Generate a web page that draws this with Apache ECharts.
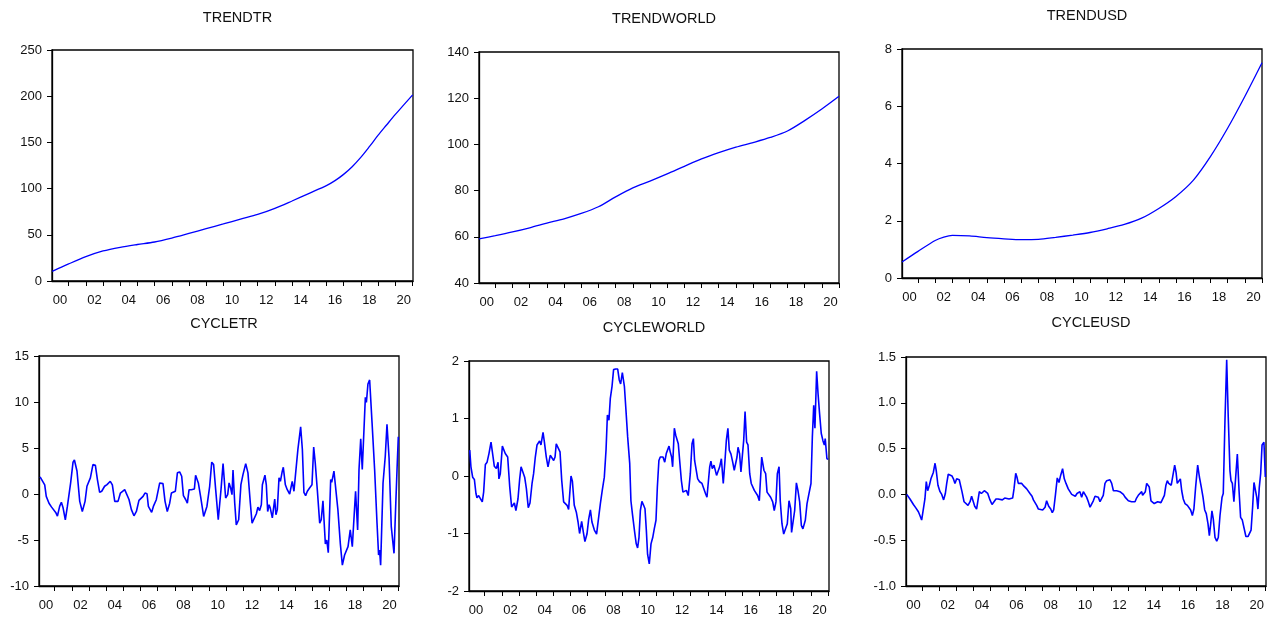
<!DOCTYPE html>
<html>
<head>
<meta charset="utf-8">
<script src="https://cdn.jsdelivr.net/npm/echarts@6.0.0/dist/echarts.min.js"></script>
<style>
html,body{margin:0;padding:0;background:#fff;}
#chart{width:1267px;height:618px;}
</style>
</head>
<body>
<div id="chart"></div>
<script>
// ---------------- DATA ----------------
const panelTitles = ['TRENDTR', 'TRENDWORLD', 'TRENDUSD', 'CYCLETR', 'CYCLEWORLD', 'CYCLEUSD'];

// x-axis: tick marks at each January, two-digit year labels centred in every other year
const yearTicks = [2001,2002,2003,2004,2005,2006,2007,2008,2009,2010,2011,2012,2013,2014,2015,2016,2017,2018,2019,2020,2021];
const yearLabelPos = [2000.5,2002.5,2004.5,2006.5,2008.5,2010.5,2012.5,2014.5,2016.5,2018.5,2020.5];

// y-axis ranges [min, max, interval]
const yTrendTR = [0, 250, 50];
const yTrendWorld = [40, 140, 20];
const yTrendUSD = [0, 8, 2];
const yCycleTR = [-10, 15, 5];
const yCycleWorld = [-2, 2, 1];
const yCycleUSD = [-1, 1.5, 0.5];

// trend series (date as fractional year, value)
const trendTRDates = [2000.04,2001,2002,2003,2004,2005,2006,2007,2008,2009,2010,2011,2012,2013,2014,2015,2016,2016.5,2017,2017.5,2018,2018.5,2019,2019.5,2020,2021.02];
const trendTRValues = [10.5,18.5,26.3,32.5,36.5,39.5,42.2,46.5,51.5,56.6,61.7,67,72,78.6,86.6,94.9,103.2,108.6,115.4,123.7,133.8,145.4,157.5,168.8,180,201.5];

const trendWorldDates = [2000.05,2001,2002,2003,2004,2005,2006,2007,2008,2009,2010,2011,2012,2013,2014,2015,2016,2017,2018,2019,2020,2021];
const trendWorldValues = [59.1,60.5,62.1,63.9,65.9,67.8,70.1,73,77.3,81.2,84.1,87.2,90.5,93.7,96.4,98.8,100.8,103,105.8,110.3,115.3,120.8];

const trendUSDDates = [2000.07,2001,2002,2002.5,2003,2004,2005,2006,2007,2008,2009,2010,2011,2012,2013,2014,2015,2016,2017,2018,2019,2020,2021];
const trendUSDValues = [0.56,0.93,1.31,1.43,1.49,1.47,1.41,1.37,1.34,1.35,1.42,1.50,1.59,1.72,1.87,2.09,2.43,2.85,3.41,4.24,5.23,6.34,7.52];

// cycle series
const cycleTRDates = [2000.15,2000.26,2000.42,2000.51,2000.67,2000.81,2000.9,2001.06,2001.16,2001.29,2001.39,2001.49,2001.62,2001.74,2001.93,2002.07,2002.15,2002.3,2002.46,2002.61,2002.77,2002.88,2003.08,2003.23,2003.37,2003.49,2003.62,2003.74,2003.91,2004.05,2004.24,2004.36,2004.5,2004.69,2004.83,2004.94,2005.08,2005.19,2005.33,2005.47,2005.62,2005.76,2005.91,2006.01,2006.15,2006.26,2006.38,2006.46,2006.57,2006.65,2006.75,2006.84,2006.92,2007.02,2007.12,2007.21,2007.31,2007.43,2007.56,2007.7,2007.8,2007.89,2008.03,2008.15,2008.28,2008.4,2008.5,2008.63,2008.73,2008.83,2008.96,2009.06,2009.14,2009.21,2009.37,2009.5,2009.68,2009.76,2009.87,2010.03,2010.15,2010.26,2010.38,2010.53,2010.69,2010.81,2010.96,2011.08,2011.16,2011.25,2011.33,2011.39,2011.49,2011.58,2011.72,2011.85,2011.97,2012.13,2012.26,2012.4,2012.5,2012.59,2012.75,2012.84,2012.94,2013.04,2013.1,2013.17,2013.25,2013.33,2013.41,2013.49,2013.56,2013.68,2013.76,2013.82,2013.89,2013.97,2014.07,2014.15,2014.26,2014.32,2014.44,2014.55,2014.69,2014.77,2014.84,2014.94,2015.04,2015.17,2015.33,2015.43,2015.52,2015.62,2015.72,2015.85,2015.99,2016.09,2016.18,2016.3,2016.44,2016.53,2016.63,2016.77,2016.85,2016.94,2017.08,2017.14,2017.27,2017.37,2017.5,2017.64,2017.76,2017.89,2018.09,2018.22,2018.34,2018.44,2018.53,2018.65,2018.73,2018.83,2018.92,2019.0,2019.1,2019.16,2019.25,2019.35,2019.49,2019.64,2019.78,2019.87,2019.93,2019.99,2020.13,2020.26,2020.36,2020.48,2020.61,2020.77,2020.86,2020.96,2021.02];
const cycleTRValues = [1.86,1.75,1.0,-0.26,-1.0,-1.4,-1.5,-2.0,-2.4,-1.35,-0.9,-1.5,-2.8,-1.35,1.2,3.46,3.7,2.5,-0.8,-1.9,-0.8,0.84,1.75,3.2,3.13,1.57,0.18,0.3,0.84,1.02,1.38,1.0,-0.8,-0.8,0.1,0.18,0.47,0.3,-0.6,-1.7,-2.37,-1.9,-0.7,-0.9,-0.26,0.1,0.03,-1.35,-1.3,-2.0,-1.35,-1.24,-0.62,-0.6,1.2,1.27,1.13,-0.8,-1.9,-1.0,0.1,-0.07,0.3,2.3,2.4,1.93,-0.18,-0.6,-1.0,0.47,0.47,0.66,0.55,2.04,1.2,-0.26,-2.44,-2.6,-1.35,0.84,3.46,3.2,0.47,-2.8,0.47,3.3,-0.44,-0.07,1.2,0.66,-0.07,2.6,-1.0,-3.35,-2.8,1.02,2.1,3.3,2.3,-1.0,-3.17,-3.35,-2.15,-1.42,-1.8,-1.17,1.0,1.2,2.04,1.0,-1.9,-1.17,-1.53,-2.6,-2.7,-0.55,-2.26,-1.7,1.75,1.38,2.48,2.9,1.0,0.47,0.0,-0.07,1.38,0.3,2.3,4.85,7.3,4.85,0.18,-0.18,0.3,0.66,1.0,5.1,3.4,0.47,-3.17,-2.8,-0.73,-5.43,-5.0,-6.38,1.57,1.27,2.48,2.3,-1.7,-5.36,-7.73,-6.63,-5.72,-3.9,-5.72,-5.8,0.3,-3.9,2.66,6.0,2.66,2.48,10.5,9.95,11.95,12.4,7.76,2.66,-3.17,-6.63,-6.1,-7.73,1.2,4.1,7.58,3.94,-3.54,-6.45,-1.7,3.39,6.23];

const cycleWorldDates = [2000.13,2000.20,2000.30,2000.40,2000.49,2000.55,2000.65,2000.75,2000.86,2000.94,2001.04,2001.14,2001.25,2001.37,2001.49,2001.56,2001.68,2001.78,2001.83,2001.91,2002.03,2002.11,2002.20,2002.34,2002.46,2002.57,2002.65,2002.73,2002.82,2002.94,2003.04,2003.12,2003.21,2003.33,2003.43,2003.54,2003.64,2003.76,2003.85,2003.95,2004.05,2004.20,2004.28,2004.40,2004.48,2004.59,2004.69,2004.82,2004.92,2005.02,2005.10,2005.17,2005.27,2005.39,2005.49,2005.60,2005.70,2005.80,2005.89,2006.03,2006.11,2006.22,2006.34,2006.44,2006.53,2006.65,2006.75,2006.84,2006.96,2007.06,2007.16,2007.25,2007.39,2007.52,2007.64,2007.74,2007.85,2007.97,2008.07,2008.15,2008.24,2008.32,2008.42,2008.51,2008.63,2008.75,2008.84,2008.92,2009.02,2009.14,2009.23,2009.33,2009.45,2009.52,2009.62,2009.74,2009.83,2009.91,2009.99,2010.07,2010.16,2010.26,2010.34,2010.42,2010.49,2010.59,2010.69,2010.79,2010.88,2010.98,2011.06,2011.15,2011.23,2011.31,2011.39,2011.49,2011.58,2011.66,2011.74,2011.81,2011.89,2011.95,2012.05,2012.13,2012.20,2012.28,2012.36,2012.46,2012.55,2012.65,2012.75,2012.86,2012.98,2013.08,2013.16,2013.23,2013.31,2013.41,2013.52,2013.66,2013.76,2013.87,2013.95,2014.03,2014.11,2014.18,2014.26,2014.36,2014.44,2014.51,2014.59,2014.69,2014.79,2014.90,2015.00,2015.08,2015.17,2015.25,2015.35,2015.45,2015.54,2015.62,2015.70,2015.76,2015.85,2015.93,2016.03,2016.09,2016.17,2016.26,2016.34,2016.44,2016.53,2016.63,2016.71,2016.81,2016.90,2017.00,2017.06,2017.14,2017.19,2017.27,2017.37,2017.45,2017.56,2017.66,2017.78,2017.87,2017.97,2018.05,2018.15,2018.22,2018.32,2018.42,2018.53,2018.63,2018.73,2018.83,2018.88,2018.96,2019.06,2019.16,2019.25,2019.35,2019.45,2019.54,2019.68,2019.78,2019.87,2020.01,2020.09,2020.17,2020.24,2020.34,2020.42,2020.51,2020.61,2020.71,2020.79,2020.84,2020.94,2021.02];
const cycleWorldValues = [0.45,0.16,-0.02,-0.06,-0.3,-0.38,-0.34,-0.33,-0.45,-0.28,0.2,0.24,0.39,0.59,0.33,0.17,0.13,0.24,-0.05,0.04,0.52,0.55,0.39,0.33,-0.19,-0.54,-0.57,-0.47,-0.6,-0.4,-0.05,0.16,0.16,-0.02,-0.22,-0.55,-0.47,-0.13,0.04,0.33,0.54,0.61,0.54,0.76,0.59,0.33,0.16,0.36,0.34,0.27,0.33,0.56,0.54,0.42,-0.08,-0.45,-0.48,-0.51,-0.58,0.0,-0.09,-0.51,-0.63,-0.8,-1.0,-0.79,-0.98,-1.14,-1.01,-0.75,-0.59,-0.8,-0.94,-1.01,-0.72,-0.48,-0.25,-0.02,0.45,1.06,0.97,1.35,1.56,1.85,1.86,1.86,1.67,1.6,1.8,1.56,1.15,0.68,0.22,-0.43,-0.69,-0.98,-1.18,-1.25,-1.07,-0.6,-0.44,-0.51,-0.57,-0.95,-1.36,-1.53,-1.18,-1.07,-0.92,-0.77,-0.19,0.27,0.33,0.3,0.33,0.24,0.39,0.42,0.52,0.42,0.33,0.16,0.83,0.71,0.68,0.56,0.27,-0.08,-0.28,-0.25,-0.25,-0.34,0.04,0.56,0.65,0.27,0.24,-0.05,-0.1,-0.13,-0.15,-0.31,-0.37,-0.34,0.16,0.26,0.13,0.19,0.19,0.01,0.04,0.16,0.3,-0.13,0.27,0.62,0.83,0.45,0.38,0.24,0.1,0.1,0.33,0.5,0.39,0.07,0.1,0.62,1.12,0.59,0.54,0.04,-0.13,-0.13,-0.25,-0.22,-0.34,-0.43,-0.43,0.33,0.34,0.1,0.04,-0.28,-0.31,-0.37,-0.45,-0.6,-0.45,0.04,0.16,-0.43,-0.83,-1.01,-1.04,-0.83,-0.43,-0.57,-0.98,-1.0,-0.6,-0.12,-0.25,-0.45,-0.86,-0.92,-0.77,-0.48,-0.34,-0.13,0.68,1.23,0.83,1.82,1.44,1.09,0.74,0.61,0.54,0.65,0.3,0.29];

const cycleUSDDates = [2000.11,2000.20,2000.30,2000.40,2000.50,2000.65,2000.79,2000.88,2000.98,2001.08,2001.17,2001.25,2001.33,2001.43,2001.52,2001.66,2001.76,2001.83,2001.93,2002.05,2002.15,2002.26,2002.36,2002.44,2002.53,2002.63,2002.75,2002.83,2002.92,2003.02,2003.08,2003.17,2003.25,2003.33,2003.45,2003.56,2003.68,2003.80,2003.89,2003.99,2004.07,2004.18,2004.26,2004.34,2004.46,2004.53,2004.63,2004.73,2004.83,2004.96,2005.08,2005.19,2005.31,2005.43,2005.54,2005.68,2005.82,2005.93,2006.07,2006.17,2006.28,2006.36,2006.46,2006.53,2006.61,2006.71,2006.81,2006.94,2007.10,2007.19,2007.29,2007.41,2007.49,2007.58,2007.68,2007.78,2007.87,2008.03,2008.17,2008.26,2008.38,2008.50,2008.59,2008.67,2008.77,2008.88,2008.98,2009.08,2009.19,2009.29,2009.39,2009.52,2009.62,2009.72,2009.83,2009.93,2010.03,2010.13,2010.20,2010.30,2010.40,2010.50,2010.59,2010.69,2010.79,2010.88,2010.98,2011.08,2011.17,2011.27,2011.37,2011.47,2011.56,2011.66,2011.76,2011.85,2011.95,2012.05,2012.15,2012.24,2012.34,2012.44,2012.53,2012.63,2012.73,2012.83,2012.92,2013.02,2013.12,2013.21,2013.31,2013.41,2013.50,2013.60,2013.70,2013.80,2013.85,2013.93,2014.01,2014.09,2014.17,2014.24,2014.34,2014.44,2014.53,2014.63,2014.73,2014.83,2014.92,2015.02,2015.12,2015.21,2015.29,2015.37,2015.45,2015.52,2015.60,2015.72,2015.80,2015.87,2015.97,2016.05,2016.13,2016.22,2016.32,2016.38,2016.46,2016.55,2016.65,2016.75,2016.84,2016.94,2017.06,2017.16,2017.27,2017.37,2017.47,2017.56,2017.66,2017.74,2017.82,2017.89,2017.97,2018.07,2018.17,2018.26,2018.36,2018.48,2018.55,2018.65,2018.75,2018.84,2018.94,2019.00,2019.08,2019.17,2019.25,2019.37,2019.47,2019.56,2019.66,2019.76,2019.87,2019.99,2020.07,2020.17,2020.26,2020.34,2020.40,2020.50,2020.57,2020.65,2020.73,2020.81,2020.92,2021.00];
const cycleUSDValues = [0.0,-0.02,-0.05,-0.07,-0.11,-0.15,-0.19,-0.23,-0.28,-0.27,-0.05,0.14,0.04,0.1,0.17,0.24,0.34,0.26,0.1,0.03,0.0,-0.06,0.01,0.12,0.22,0.2,0.2,0.17,0.12,0.17,0.15,0.16,0.15,0.03,-0.08,-0.09,-0.12,-0.08,-0.02,-0.08,-0.13,-0.16,-0.14,0.03,0.01,0.03,0.04,0.05,0.01,-0.06,-0.11,-0.09,-0.05,-0.05,-0.07,-0.06,-0.04,-0.04,-0.05,-0.05,-0.04,0.06,0.23,0.19,0.12,0.12,0.12,0.09,0.06,0.04,0.01,-0.02,-0.06,-0.07,-0.12,-0.16,-0.17,-0.17,-0.14,-0.07,-0.13,-0.16,-0.2,-0.17,-0.01,0.18,0.13,0.21,0.28,0.17,0.12,0.06,0.03,0.0,0.01,-0.02,0.01,-0.01,0.03,-0.03,0.03,0.04,-0.03,-0.08,-0.14,-0.14,-0.07,-0.02,-0.01,-0.03,-0.08,-0.06,-0.01,0.12,0.15,0.13,0.16,0.12,0.04,0.05,0.04,0.05,0.03,0.01,0.0,-0.03,-0.05,-0.07,-0.09,-0.08,-0.09,-0.08,-0.04,-0.01,-0.01,0.03,-0.01,-0.01,0.03,0.12,0.1,0.08,-0.07,-0.08,-0.1,-0.09,-0.08,-0.06,-0.09,-0.07,-0.01,0.1,0.15,0.12,0.12,0.1,0.12,0.32,0.24,0.12,0.12,0.17,0.04,-0.05,-0.1,-0.08,-0.12,-0.14,-0.17,-0.23,-0.16,0.08,0.32,0.19,0.08,-0.03,-0.17,-0.21,-0.32,-0.45,-0.32,-0.18,-0.27,-0.47,-0.51,-0.47,-0.23,-0.03,0.01,0.81,1.47,0.85,0.26,0.15,0.12,-0.08,-0.07,0.44,0.04,-0.25,-0.28,-0.3,-0.46,-0.46,-0.47,-0.39,-0.14,0.13,0.15,-0.03,-0.16,0.08,0.23,0.54,0.57,0.19];

// ---------------- LAYOUT / STYLE ----------------
const FONT = "'Liberation Sans', Arial, Helvetica, sans-serif";
const TXT = '#111';
const panels = [
  {grid:{left:52, top:50, width:361, height:231}, xr:[2000.03,2021.04], y:yTrendTR, dates:trendTRDates, vals:trendTRValues, smooth:true, ty:13},
  {grid:{left:479, top:52, width:360, height:231}, xr:[2000.05,2021.0], y:yTrendWorld, dates:trendWorldDates, vals:trendWorldValues, smooth:true, ty:14},
  {grid:{left:902, top:49, width:360, height:229}, xr:[2000.07,2021.0], y:yTrendUSD, dates:trendUSDDates, vals:trendUSDValues, smooth:true, ty:11},
  {grid:{left:39, top:356, width:360, height:230}, xr:[2000.087,2021.06], y:yCycleTR, dates:cycleTRDates, vals:cycleTRValues, smooth:false, ty:319},
  {grid:{left:469, top:361, width:360, height:230}, xr:[2000.087,2021.06], y:yCycleWorld, dates:cycleWorldDates, vals:cycleWorldValues, smooth:false, ty:323},
  {grid:{left:906, top:357, width:360, height:229}, xr:[2000.068,2021.04], y:yCycleUSD, dates:cycleUSDDates, vals:cycleUSDValues, smooth:false, ty:318, dec:1}
];

const option = {animation:false, backgroundColor:'#fff', title:[], grid:[], xAxis:[], yAxis:[], series:[]};
panels.forEach((p, i) => {
  option.grid.push(Object.assign({show:true, borderColor:'#000', borderWidth:1.3, backgroundColor:'#fff', containLabel:false, outerBoundsMode:'none'}, p.grid));
  option.title.push({
    text: panelTitles[i], left: p.grid.left + p.grid.width / 2, top: p.ty,
    textAlign:'center', textVerticalAlign:'middle',
    textStyle:{fontFamily:FONT, fontSize:14.5, fontWeight:'normal', color:TXT}
  });
  option.xAxis.push({
    type:'value', gridIndex:i, min:p.xr[0], max:p.xr[1], position:'bottom',
    splitLine:{show:false},
    axisLine:{show:true, onZero:false, lineStyle:{color:'#000', width:1.3}},
    axisTick:{show:true, inside:false, length:5, customValues:yearTicks, lineStyle:{color:'#000', width:1}},
    axisLabel:{show:true, margin:13, customValues:yearLabelPos, fontFamily:FONT, fontSize:13, color:TXT,
      formatter: v => String(Math.floor(v) % 100).padStart(2, '0')}
  });
  option.yAxis.push({
    type:'value', gridIndex:i, min:p.y[0], max:p.y[1], interval:p.y[2], position:'left',
    splitLine:{show:false},
    axisLine:{show:true, onZero:false, lineStyle:{color:'#000', width:1.3}},
    axisTick:{show:true, inside:false, length:5, lineStyle:{color:'#000', width:1}},
    axisLabel:{show:true, margin:10, fontFamily:FONT, fontSize:13, color:TXT,
      formatter: v => p.dec ? v.toFixed(p.dec) : String(v)}
  });
  option.series.push({
    type:'line', xAxisIndex:i, yAxisIndex:i, showSymbol:false, symbol:'none',
    smooth: p.smooth ? 0.3 : false,
    lineStyle:{color:'#0000ff', width: p.smooth ? 1.3 : 1.6},
    data: p.dates.map((d, k) => [d, p.vals[k]])
  });
});

const chart = echarts.init(document.getElementById('chart'), null, {renderer:'canvas'});
chart.setOption(option);
</script>
</body>
</html>
